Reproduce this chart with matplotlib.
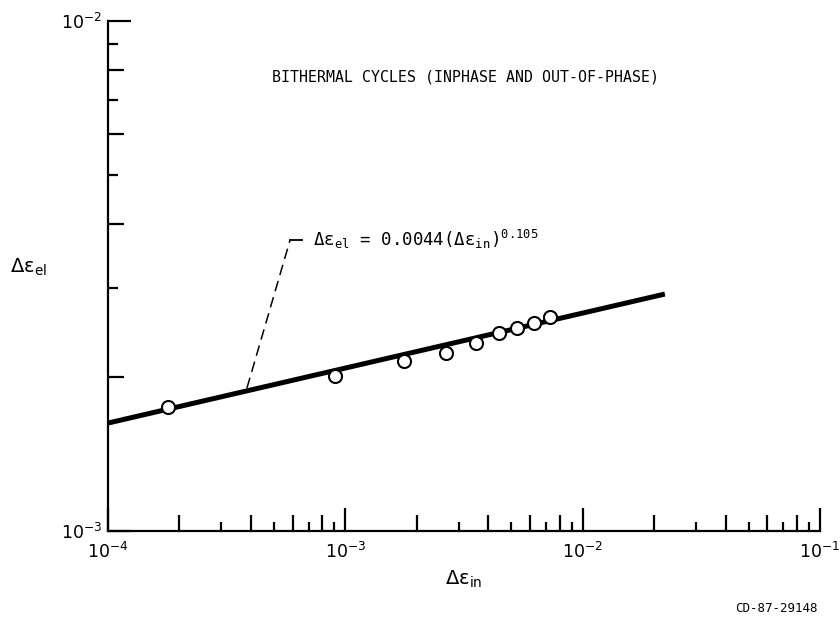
import matplotlib
matplotlib.use("Agg")
import matplotlib.pyplot as plt
from matplotlib.ticker import LogLocator, NullLocator, NullFormatter

plt.rcParams["mathtext.default"] = "regular"

# Data
strain_in = [1.79e-4, 9.05e-4, 1.77e-3, 2.66e-3, 3.55e-3, 4.44e-3, 5.30e-3, 6.24e-3, 7.29e-3]
strain_el = [1.753e-3, 2.013e-3, 2.158e-3, 2.234e-3, 2.34e-3, 2.44e-3, 2.504e-3, 2.561e-3, 2.632e-3]
fit_in = [1.0e-4, 2.22e-2]
fit_el = [1.628e-3, 2.915e-3]
leader_in = [3.85e-4, 5.85e-4, 6.57e-4]
leader_el = [1.907e-3, 3.72e-3, 3.72e-3]

title_text = "BITHERMAL CYCLES (INPHASE AND OUT-OF-PHASE)"
eq_text = r"$\Delta\varepsilon_{el}$ = 0.0044($\Delta\varepsilon_{in}$)$^{0.105}$"
xlabel = r"$\Delta\varepsilon_{in}$"
ylabel = r"$\Delta\varepsilon_{el}$"
fig_id = "CD-87-29148"

fig = plt.figure(figsize=(8.4, 6.18), dpi=100)
ax = fig.add_axes([108/840, 1-531/618, (820-108)/840, (531-21)/618])
ax.set_xscale("log")
ax.set_yscale("log")
ax.set_xlim(1e-4, 1e-1)
ax.set_ylim(1e-3, 1e-2)

ax.plot(fit_in, fit_el, color="black", lw=3.6, solid_capstyle="butt", zorder=2)
ax.plot(strain_in, strain_el, linestyle="none", marker="o", ms=9.4,
        mfc="white", mec="black", mew=1.5, zorder=3)

# leader to equation
ax.plot(leader_in[:2], leader_el[:2], color="black", lw=1.1, ls=(0, (7, 4)), zorder=2)
ax.plot(leader_in[1:], leader_el[1:], color="black", lw=1.3, zorder=2)

for s in ["top", "right"]:
    ax.spines[s].set_visible(False)
for s in ["left", "bottom"]:
    ax.spines[s].set_linewidth(1.6)

ax.xaxis.set_major_locator(LogLocator(base=10))
ax.yaxis.set_major_locator(LogLocator(base=10))
ax.xaxis.set_minor_locator(LogLocator(base=10, subs=[2, 4, 6, 8]))
ax.yaxis.set_minor_locator(LogLocator(base=10, subs=[2, 4, 6, 8]))
ax.xaxis.set_minor_formatter(NullFormatter())
ax.yaxis.set_minor_formatter(NullFormatter())
ax.tick_params(which="major", direction="in", length=16.5, width=1.6, labelsize=12.5)
ax.tick_params(which="minor", direction="in", length=11.5, width=1.6)
ax.tick_params(axis="x", which="major", pad=8)
ax.tick_params(axis="y", which="major", pad=4)

secx = ax.secondary_xaxis("bottom")
secx.xaxis.set_major_locator(LogLocator(base=10, subs=[3, 5, 7, 9]))
secx.xaxis.set_minor_locator(NullLocator())
secx.tick_params(which="major", direction="in", length=6.5, width=1.6, labelbottom=False)
secx.spines["bottom"].set_visible(False)

secy = ax.secondary_yaxis("left")
secy.yaxis.set_major_locator(LogLocator(base=10, subs=[3, 5, 7, 9]))
secy.yaxis.set_minor_locator(NullLocator())
secy.tick_params(which="major", direction="in", length=7.5, width=1.6, labelleft=False)
secy.spines["left"].set_visible(False)

ax.set_xlabel(xlabel, fontsize=14, labelpad=5)
ax.set_ylabel(ylabel, fontsize=14, rotation=0, ha="center", va="center")
ax.yaxis.set_label_coords(-0.111, 0.516)

ax.text(0.2303, 0.890, title_text, transform=ax.transAxes, ha="left", va="center",
        family="DejaVu Sans Mono", fontsize=10.7)
ax.text(0.288, 0.5725, eq_text, transform=ax.transAxes, ha="left", va="center",
        family="DejaVu Sans Mono", fontsize=12.5)
fig.text(818/840, 1-608/618, fig_id, ha="right", va="center",
         family="DejaVu Sans Mono", fontsize=9)

fig.savefig("out.png", dpi=100)
